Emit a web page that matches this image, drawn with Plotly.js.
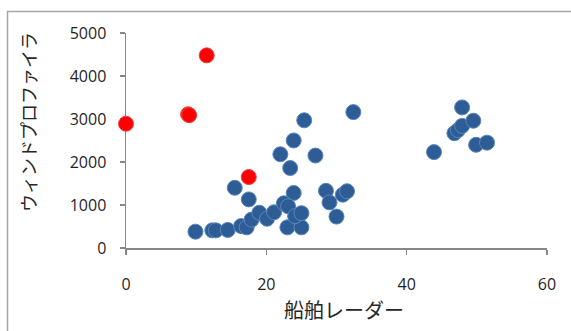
<!DOCTYPE html>
<html>
<head>
<meta charset="utf-8">
<script src="https://cdn.plot.ly/plotly-3.0.1.min.js"></script>
<style>html,body{margin:0;padding:0;background:#fff;}#chart{width:571px;height:331px;}</style>
</head>
<body>
<div id="chart"></div>
<script>
// Blue series (船舶レーダー vs ウィンドプロファイラ)
var blueX = [9.9, 12.3, 12.8, 14.5, 16.4, 17.2, 17.9, 19.0, 20.1, 21.1,
             15.5, 17.5, 22.0, 23.4, 23.9, 25.4, 27.0, 23.9, 22.5, 23.1,
             23.0, 25.0, 24.1, 25.0, 28.5, 29.0, 30.0, 30.9, 31.5, 32.4,
             43.9, 46.8, 47.3, 47.9, 47.9, 49.5, 49.9, 51.45];
var blueY = [380, 410, 410, 420, 510, 480, 660, 820, 680, 830,
             1400, 1130, 2180, 1860, 2500, 2970, 2150, 1280, 1040, 970,
             480, 480, 740, 810, 1330, 1060, 730, 1240, 1320, 3160,
             2230, 2670, 2740, 2840, 3270, 2960, 2400, 2450];
// Red series
var redX = [0, 8.85, 9.0, 11.5, 17.5];
var redY = [2890, 3110, 3090, 4480, 1650];

var xTicks = [0, 20, 40, 60];
var yTicks = [0, 1000, 2000, 3000, 4000, 5000];
var xTitle = '船舶レーダー';
var yTitle = 'ウィンドプロファイラ';

var traces = [
  {x: blueX, y: blueY, type: 'scatter', mode: 'markers', cliponaxis: false,
   marker: {size: 15, color: '#2E5C94', line: {color: '#5A86BF', width: 1}}},
  {x: redX, y: redY, type: 'scatter', mode: 'markers', cliponaxis: false,
   marker: {size: 15, color: '#FF0000', line: {color: '#F04040', width: 1}}}
];

var axisCommon = {
  showgrid: false, zeroline: false, showline: true,
  linecolor: '#878787', linewidth: 1.5,
  ticks: 'outside', ticklen: 5, tickwidth: 1.5, tickcolor: '#878787',
  tickfont: {family: 'Open Sans, sans-serif', size: 16, color: '#1f1f1f'},
  layer: 'below traces', fixedrange: true
};

var titleFont = {family: 'Noto Sans CJK JP, sans-serif', color: '#262626'};

var layout = {
  width: 571, height: 331,
  margin: {l: 126, r: 24, t: 33, b: 83},
  paper_bgcolor: '#ffffff', plot_bgcolor: '#ffffff',
  showlegend: false,
  xaxis: Object.assign({}, axisCommon, {
    range: [0, 60], tickvals: xTicks, ticktext: xTicks.map(String),
    ticklabelstandoff: 16
  }),
  yaxis: Object.assign({}, axisCommon, {
    range: [0, 5000], tickvals: yTicks, ticktext: yTicks.map(String),
    ticklabelstandoff: 10
  }),
  annotations: [
    {text: xTitle, xref: 'paper', yref: 'paper', x: 0.518, y: -0.288,
     xanchor: 'center', yanchor: 'middle', showarrow: false,
     font: Object.assign({size: 20}, titleFont)},
    {text: yTitle, xref: 'paper', yref: 'paper', x: -0.2328, y: 0.586,
     xanchor: 'center', yanchor: 'middle', showarrow: false, textangle: -90,
     font: Object.assign({size: 18}, titleFont)}
  ],
  shapes: [{
    type: 'rect', xref: 'paper', yref: 'paper',
    x0: -0.2815, x1: 1.3, y0: -0.6, y1: 1.1,
    line: {color: '#A6A6A6', width: 1.5}, fillcolor: 'rgba(0,0,0,0)', layer: 'below'
  }]
};

Plotly.newPlot('chart', traces, layout, {displayModeBar: false, staticPlot: true});
</script>
</body>
</html>
